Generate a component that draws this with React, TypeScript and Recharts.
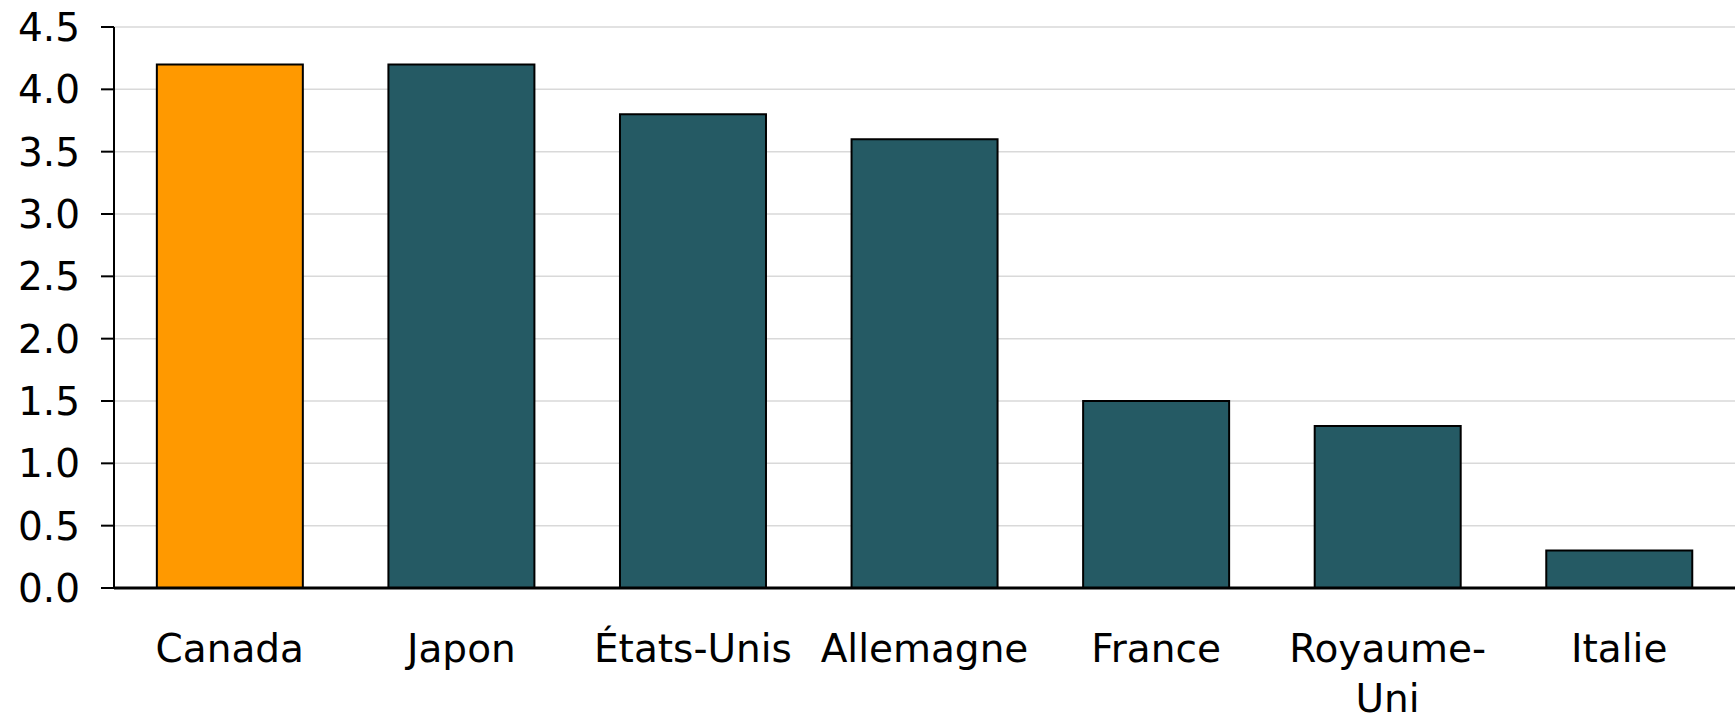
import React from "react";
import { BarChart, Bar, XAxis, YAxis, CartesianGrid, Cell } from "recharts";

const categories = ["Canada", "Japon", "États-Unis", "Allemagne", "France", "Royaume-Uni", "Italie"];
const values = [4.2, 4.2, 3.8, 3.6, 1.5, 1.3, 0.3];
const yTicks = [0, 0.5, 1, 1.5, 2, 2.5, 3, 3.5, 4, 4.5];
const highlight = "Canada";

// labels that wrap onto two lines in the original
const wrapped: { [key: string]: string[] } = {
  "Royaume-Uni": ["Royaume-", "Uni"],
};

const data = categories.map((name, i) => ({ name, value: values[i] }));

const FONT = "'DejaVu Sans', Verdana, sans-serif";

const XTick = (props: any) => {
  const { x, y, payload } = props;
  const lines = wrapped[payload.value] || [payload.value];
  return (
    <g>
      {lines.map((line: string, i: number) => (
        <text
          key={i}
          x={x}
          y={y + 72 + i * 50}
          textAnchor="middle"
          fill="#000"
          fontSize={39}
          fontFamily={FONT}
        >
          {line}
        </text>
      ))}
    </g>
  );
};

const App = () => {
  return (
    <div style={{ position: "absolute", left: 0, top: 0, width: 1735, height: 714, background: "#fff" }}>
      <BarChart
        width={1735}
        height={714}
        data={data}
        margin={{ top: 27, right: 0, bottom: 0, left: 0 }}
        barCategoryGap="18.5%"
      >
        <CartesianGrid vertical={false} stroke="#D9D9D9" strokeWidth={1.5} />
        <XAxis
          dataKey="name"
          height={126}
          tickLine={false}
          axisLine={{ stroke: "#000", strokeWidth: 3 }}
          tick={<XTick />}
          interval={0}
          tickSize={0}
        />
        <YAxis
          width={114}
          domain={[0, 4.5]}
          ticks={yTicks}
          tickFormatter={(v: number) => v.toFixed(1)}
          tickSize={13}
          tickMargin={21}
          tickLine={{ stroke: "#000", strokeWidth: 2 }}
          axisLine={{ stroke: "#000", strokeWidth: 2 }}
          tick={{ fill: "#000", fontSize: 39, fontFamily: FONT }}
          interval={0}
        />
        <Bar dataKey="value" stroke="#000" strokeWidth={2} isAnimationActive={false}>
          {data.map((d) => (
            <Cell key={d.name} fill={d.name === highlight ? "#FF9900" : "#255A64"} />
          ))}
        </Bar>
      </BarChart>
    </div>
  );
};

export default App;
